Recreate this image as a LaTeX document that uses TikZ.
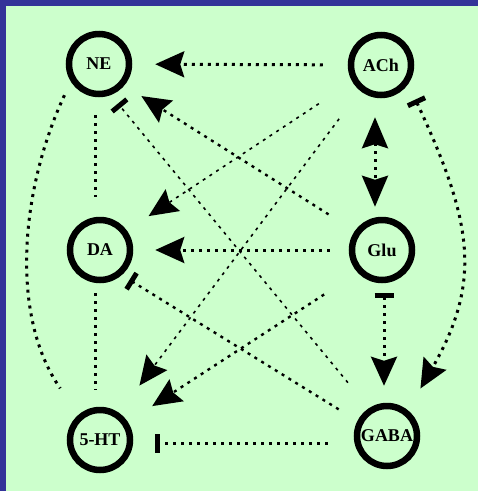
\documentclass[tikz,border=0pt]{standalone}
\usepackage{fontspec}
\setmainfont{Liberation Serif}
\usetikzlibrary{arrows.meta}
\definecolor{frameblue}{HTML}{333399}
\definecolor{palegreen}{HTML}{CCFFCC}
\begin{document}
\begin{tikzpicture}[x=1pt,y=-1pt,
  cell/.style={circle,draw,line width=6.5pt,minimum size=60pt,inner sep=0pt,font=\bfseries\fontsize{18}{18}\selectfont},
  fat/.style={line width=3pt,dash pattern=on 3pt off 5pt},
  mid/.style={line width=2.4pt,dash pattern=on 3pt off 5pt},
  slim/.style={line width=1.6pt,dash pattern=on 3pt off 5pt},
  ex/.style={-{Stealth[length=29pt,width=26pt,inset=4pt]}},
  inh/.style={-{Bar[width=19pt,line width=5pt]}}]
\useasboundingbox (0,0) rectangle (478,491);
\fill[frameblue] (0,0) rectangle (478,491);
\fill[palegreen] (6,6) rectangle (478,491);
\node[cell] (NE) at (99,64) {NE};
\node[cell] (ACh) at (381,65) {ACh};
\node[cell] (DA) at (100,250) {DA};
\node[cell] (Glu) at (382,250) {Glu};
\node[cell] (HT) at (100,440) {5-HT};
\node[cell] (GABA) at (387,436) {GABA};
\draw[fat,ex,shorten <=25pt,shorten >=23pt] (ACh) -- (NE);
\draw[fat,ex,shorten <=19pt,shorten >=22pt] (Glu) -- (DA);
\draw[fat,inh,shorten <=26pt,shorten >=22pt] ([yshift=-7pt]GABA.west) -- ([yshift=-3pt]HT.east);
\draw[mid,ex,shorten <=31pt,shorten >=20pt] (Glu.145) -- (NE.-40);
\draw[slim,ex,shorten <=40pt,shorten >=26pt] (ACh.210) -- (DA.36);
\draw[slim,ex,shorten <=35pt,shorten >=34pt] (ACh.231) -- (HT.55);
\draw[mid,ex,shorten <=40pt,shorten >=29pt] (Glu.223) -- (HT.33);
\draw[slim,inh,shorten <=33pt,shorten >=11pt] (GABA.123) -- (NE.-69);
\draw[mid,inh,shorten <=22pt,shorten >=9pt] (GABA.153) -- (DA.-49);
\draw[fat,{Stealth[length=31pt,width=26pt,inset=4pt]}-{Stealth[length=31pt,width=26pt,inset=4pt]},shorten <=19pt,shorten >=10pt] ([xshift=-6pt]ACh.south) -- ([xshift=-7pt]Glu.north);
\draw[fat,{Bar[width=19pt,line width=5pt]}-{Stealth[length=29pt,width=26pt,inset=4pt]},shorten <=10pt,shorten >=17pt] ([xshift=2pt]Glu.south) -- ([xshift=-3pt]GABA.north);
\draw[fat,{Bar[width=19pt,line width=5pt]}-{Stealth[length=29pt,width=26pt,inset=4pt]},shorten <=17pt,shorten >=25pt] (ACh.-35) .. controls +(65:150) and +(-60:150) .. (GABA.51);
\draw[fat,shorten <=15pt,shorten >=32pt] (NE.212) .. controls +(115:120) and +(235:120) .. (HT.130);
\draw[fat,shorten <=18pt,shorten >=20pt] ([xshift=-4pt]NE.south) -- ([xshift=-5pt]DA.north);
\draw[fat,shorten <=10pt,shorten >=17pt] ([xshift=-5pt]DA.south) -- ([xshift=-5pt]HT.north);
\end{tikzpicture}
\end{document}
